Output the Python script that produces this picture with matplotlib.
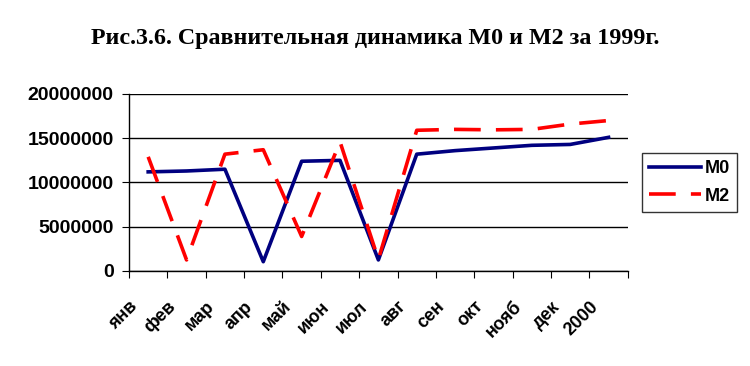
import matplotlib
matplotlib.use("Agg")
import numpy as np
import matplotlib.pyplot as plt
from matplotlib.transforms import blended_transform_factory, ScaledTranslation

# categories (months of 1999 + start of 2000)
months = ["янв", "фев", "мар", "апр", "май", "июн", "июл",
          "авг", "сен", "окт", "нояб", "дек", "2000"]

# values
m0 = [11200000, 11300000, 11500000, 1050000, 12400000, 12500000, 1250000,
      13200000, 13600000, 13900000, 14200000, 14300000, 15100000]
m2 = [12900000, 1250000, 13200000, 13700000, 3900000, 14600000, 1300000,
      15900000, 16000000, 15950000, 16000000, 16600000, 17000000]

title = "Рис.3.6. Сравнительная динамика М0 и М2 за 1999г."

plt.rcParams["font.family"] = ["Liberation Sans", "DejaVu Sans"]

fig = plt.figure(figsize=(7.5, 3.66), dpi=100)
ax = fig.add_axes([0.172, 0.2596, 0.665, 0.4836])

x = np.arange(len(months))
ax.plot(x, m0, color="#000080", lw=2.6, label="M0")
ax.plot(x, m2, color="#ff0000", lw=2.6, dashes=(7.4, 4.2), label="M2")

ax.set_xlim(-0.5, len(months) - 0.5)
ax.set_ylim(0, 20000000)
ax.set_yticks(np.arange(0, 20000001, 5000000))
ax.set_yticklabels([f"{v:d}" for v in range(0, 20000001, 5000000)],
                   fontsize=14, fontweight="bold")
ax.yaxis.grid(True, color="black", lw=1)
ax.set_axisbelow(True)

# category boundaries as ticks, labels drawn below, rotated like Excel does
ax.set_xticks(np.arange(-0.5, len(months)))
ax.set_xticklabels([])
ax.tick_params(axis="x", length=5, direction="out", color="black")
ax.tick_params(axis="y", length=5, direction="out", color="black", pad=6)

lbl_tr = blended_transform_factory(ax.transData, ax.transAxes) + \
    ScaledTranslation(-0.13, -0.33, fig.dpi_scale_trans)
for i, m in enumerate(months):
    ax.text(x[i], 0, m, transform=lbl_tr, rotation=45, ha="right",
            va="center", rotation_mode="anchor", fontsize=13,
            fontweight="bold", clip_on=False)

for s in ["top", "right"]:
    ax.spines[s].set_visible(False)
for s in ["left", "bottom"]:
    ax.spines[s].set_color("black")
    ax.spines[s].set_linewidth(1)

leg = fig.legend(loc="upper left", bbox_to_anchor=(0.8556, 0.583),
                 borderaxespad=0,
                 prop={"weight": "bold", "size": 13}, frameon=True,
                 fancybox=False, edgecolor="black", handlelength=2.9,
                 borderpad=0.4, handletextpad=0.2, labelspacing=0.6)
leg.get_frame().set_linewidth(1)

fig.text(0.5, 0.896, title, ha="center", va="center", fontsize=17.3,
         fontweight="bold", family=["Liberation Serif", "DejaVu Serif"])

fig.savefig("out.png", dpi=100)
